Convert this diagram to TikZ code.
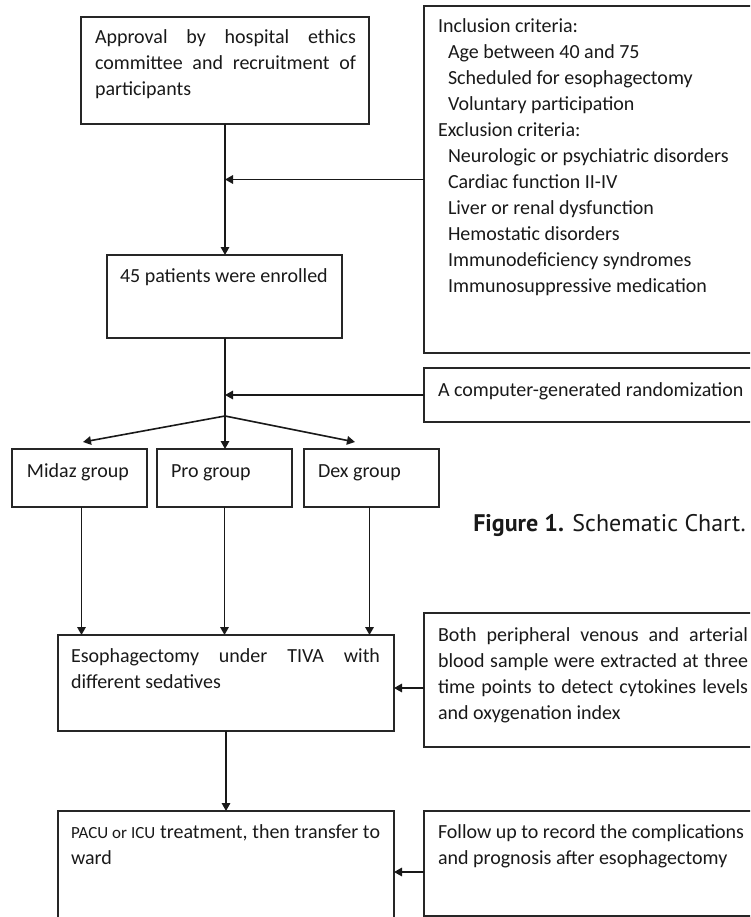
\documentclass[tikz,border=0pt]{standalone}
\usepackage{fontspec}
\setmainfont{Carlito}
\newfontfamily\capfont{PT Sans}
\usetikzlibrary{arrows.meta,calc}
\newcommand\myjl[2]{\hbox to #1pt{#2}}
\newcommand\myln[1]{\hbox{#1}}
\begin{document}
\begin{tikzpicture}[x=1pt,y=-1pt,
  box/.style={draw=black!85, line width=1.2pt, inner sep=0pt, outer sep=0pt, anchor=north west},
  txt/.style={anchor=base west, inner sep=0pt, outer sep=0pt, font=\fontsize{20}{26}\selectfont, text=black!90},
  arr/.style={-{Triangle[length=8pt,width=8.5pt]}, line width=1.6pt, draw=black!90},
  conn/.style={line width=1.6pt, draw=black!90}
]
\useasboundingbox (0,0) rectangle (750,917);
\clip (0,0) rectangle (750,917);

% boxes
\node[box, minimum width=288pt, minimum height=107pt] (appr) at (81,17) {};
\node[box, minimum width=360pt, minimum height=347pt] (incl) at (424,6) {};
\node[box, minimum width=235pt, minimum height=83pt] (enr) at (107,255) {};
\node[box, minimum width=360pt, minimum height=54pt] (rand) at (424,368) {};
\node[box, minimum width=135pt, minimum height=58pt] (midaz) at (12,449) {};
\node[box, minimum width=135pt, minimum height=58pt] (pro) at (157,449) {};
\node[box, minimum width=135pt, minimum height=58pt] (dex) at (304,449) {};
\node[box, minimum width=336pt, minimum height=96pt] (esoph) at (58,635) {};
\node[box, minimum width=360pt, minimum height=134pt] (blood) at (424,613) {};
\node[box, minimum width=336pt, minimum height=130pt] (pacu) at (58,811) {};
\node[box, minimum width=360pt, minimum height=105pt] (follow) at (424,811) {};

% texts
\node[txt] (apprtxt) at (95,44) {\vtop{\myjl{261}{Approval by hospital ethics}\myjl{261}{committee and recruitment of}\myln{participants}}};
\node[txt] (incltxt) at (438,33) {\vtop{\myln{Inclusion criteria:}\myln{\hskip10pt Age between 40 and 75}\myln{\hskip10pt Scheduled for esophagectomy}\myln{\hskip10pt Voluntary participation}\myln{Exclusion criteria:}\myln{\hskip10pt Neurologic or psychiatric disorders}\myln{\hskip10pt Cardiac function II-IV}\myln{\hskip10pt Liver or renal dysfunction}\myln{\hskip10pt Hemostatic disorders}\myln{\hskip10pt Immunodeficiency syndromes}\myln{\hskip10pt Immunosuppressive medication}}};
\node[txt] (enrtxt) at (120,282) {45 patients were enrolled};
\node[txt] (randtxt) at (438,396) {A computer-generated randomization};
\node[txt] (midaztxt) at (27,477) {Midaz group};
\node[txt] (protxt) at (171,477) {Pro group};
\node[txt] (dextxt) at (318,477) {Dex group};
\node[txt] (esophtxt) at (71,662) {\vtop{\myjl{309}{Esophagectomy under TIVA with}\myln{different sedatives}}};
\node[txt] (bloodtxt) at (438,641) {\vtop{\myjl{310}{Both peripheral venous and arterial}\myjl{310}{blood sample were extracted at three}\myjl{310}{time points to detect cytokines levels}\myln{and oxygenation index}}};
\node[txt] (pacutxt) at (71,838) {\vtop{\myjl{309}{{\fontsize{17}{26}\selectfont PACU or ICU} treatment, then transfer to}\myln{ward}}};
\node[txt] (followtxt) at (438,838) {\vtop{\myln{Follow up to record the complications}\myln{and prognosis after esophagectomy}}};
\node[anchor=base east, inner sep=0pt, font=\capfont\fontsize{24}{28}\selectfont, text=black!90] (cap) at (746,531) {\textbf{Figure 1.} Schematic Chart.};

% connectors
\coordinate (br) at (225,416);
\coordinate (tm) at (83,442);
\coordinate (td) at (355,442);
\coordinate (bl) at (424,688);
\coordinate (fl) at (424,872);
\draw[arr] (appr.south) -- (appr.south |- enr.north);
\draw[arr] (incl.west) -- (incl.west -| appr.south);
\draw[conn] (enr.south -| br) -- (br);
\draw[arr] (rand.west) -- (rand.west -| br);
\draw[arr] (br) -- (tm);
\draw[arr] (br) -- (br |- pro.north);
\draw[arr] (br) -- (td);
\draw[arr] (midaz.south) ++(2,0) -- ($(midaz.south |- esoph.north)+(2,0)$);
\draw[arr] (pro.south) -- (pro.south |- esoph.north);
\draw[arr] (dex.south) ++(-2,0) -- ($(dex.south |- esoph.north)+(-2,0)$);
\draw[arr] (bl) -- (bl -| esoph.east);
\draw[arr] (esoph.south) -- (pacu.north);
\draw[arr] (fl) -- (fl -| pacu.east);
\end{tikzpicture}
\end{document}
